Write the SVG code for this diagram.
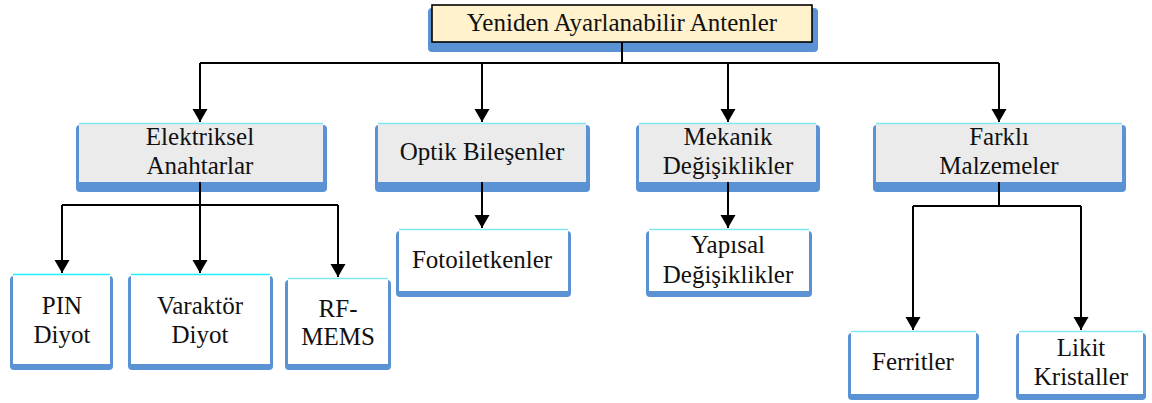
<svg xmlns="http://www.w3.org/2000/svg" width="1152" height="403" viewBox="0 0 1152 403">
<defs>
<style>
.sh{fill:#5B92D3;}
.gray{fill:#EBEBEB;}
.white{fill:#FFFFFF;}
.top{fill:#FFF2CC;stroke:#000;stroke-width:1.6;}
.cy{stroke:#7FE8F5;stroke-width:1.5;}
.cyw{stroke:#22F0FF;stroke-width:1.5;}
.c{fill:none;stroke:#000;stroke-width:2;}
</style>
<marker id="ah" markerUnits="userSpaceOnUse" markerWidth="14" markerHeight="16" refX="13" refY="7.5" orient="auto" viewBox="0 0 14 15">
<path d="M0,0 L13,7.5 L0,15 z" fill="#000"/>
</marker>
</defs>
<rect x="0" y="0" width="1152" height="403" fill="#FFFFFF"/>
<g font-family="Liberation Serif, Times New Roman, serif" font-size="25" text-anchor="middle" fill="#111">

<g id="n-root">
<rect class="sh" x="428" y="8" width="390" height="44" rx="4"/>
<rect class="top" x="432" y="5" width="380" height="37"/>
<text x="622" y="31">Yeniden Ayarlanabilir Antenler</text>
</g>

<g id="n-elektriksel">
<rect class="sh" x="76" y="125" width="251" height="67" rx="4"/>
<rect class="gray" x="79" y="123" width="244" height="59"/>
<line class="cy" x1="79" y1="123.5" x2="323" y2="123.5"/>
<text x="200" y="145">Elektriksel</text>
<text x="200" y="174">Anahtarlar</text>
</g>

<g id="n-optik">
<rect class="sh" x="375" y="125" width="215" height="67" rx="4"/>
<rect class="gray" x="378" y="123" width="208" height="59"/>
<line class="cy" x1="378" y1="123.5" x2="586" y2="123.5"/>
<text x="482" y="160">Optik Bileşenler</text>
</g>

<g id="n-mekanik">
<rect class="sh" x="636" y="125" width="184" height="67" rx="4"/>
<rect class="gray" x="639" y="123" width="177" height="59"/>
<line class="cy" x1="639" y1="123.5" x2="816" y2="123.5"/>
<text x="728" y="145">Mekanik</text>
<text x="728" y="174">Değişiklikler</text>
</g>

<g id="n-farkli">
<rect class="sh" x="873" y="125" width="253" height="67" rx="4"/>
<rect class="gray" x="876" y="123" width="246" height="59"/>
<line class="cy" x1="876" y1="123.5" x2="1122" y2="123.5"/>
<text x="999" y="145">Farklı</text>
<text x="999" y="174">Malzemeler</text>
</g>

<g id="n-pin">
<rect class="sh" x="10" y="276" width="103" height="94" rx="4"/>
<rect class="white" x="13" y="274" width="97" height="90"/>
<line class="cyw" x1="13" y1="274.5" x2="110" y2="274.5"/>
<text x="62" y="314">PIN</text>
<text x="62" y="343">Diyot</text>
</g>

<g id="n-varaktor">
<rect class="sh" x="128" y="276" width="145" height="94" rx="4"/>
<rect class="white" x="131" y="274" width="139" height="90"/>
<line class="cyw" x1="131" y1="274.5" x2="270" y2="274.5"/>
<text x="200" y="314">Varaktör</text>
<text x="200" y="343">Diyot</text>
</g>

<g id="n-rfmems">
<rect class="sh" x="285" y="280" width="106" height="90" rx="4"/>
<rect class="white" x="288" y="278" width="100" height="86"/>
<line class="cy" x1="288" y1="278.5" x2="388" y2="278.5"/>
<text x="338" y="317">RF-</text>
<text x="338" y="345">MEMS</text>
</g>

<g id="n-foto">
<rect class="sh" x="396" y="231" width="175" height="66" rx="4"/>
<rect class="white" x="399" y="229" width="169" height="62"/>
<line class="cy" x1="399" y1="229.5" x2="568" y2="229.5"/>
<text x="482" y="268">Fotoiletkenler</text>
</g>

<g id="n-yapisal">
<rect class="sh" x="646" y="231" width="166" height="66" rx="4"/>
<rect class="white" x="649" y="229" width="160" height="62"/>
<line class="cy" x1="649" y1="229.5" x2="809" y2="229.5"/>
<text x="728" y="253">Yapısal</text>
<text x="728" y="283">Değişiklikler</text>
</g>

<g id="n-ferrit">
<rect class="sh" x="848" y="333" width="131" height="67" rx="4"/>
<rect class="white" x="851" y="331" width="125" height="63"/>
<line class="cy" x1="851" y1="331.5" x2="976" y2="331.5"/>
<text x="913" y="370">Ferritler</text>
</g>

<g id="n-likit">
<rect class="sh" x="1016" y="333" width="130" height="67" rx="4"/>
<rect class="white" x="1019" y="331" width="124" height="63"/>
<line class="cy" x1="1019" y1="331.5" x2="1143" y2="331.5"/>
<text x="1081" y="356">Likit</text>
<text x="1081" y="385">Kristaller</text>
</g>
</g>

<g id="connectors">
<path class="c" d="M622,42 V63 M200,63 H999 M62,205 H338 M913,206 H1081 M200,182 V205 M999,182 V206"/>
<path class="c" marker-end="url(#ah)" d="M200,63 V122"/>
<path class="c" marker-end="url(#ah)" d="M482,63 V122"/>
<path class="c" marker-end="url(#ah)" d="M728,63 V122"/>
<path class="c" marker-end="url(#ah)" d="M999,63 V122"/>
<path class="c" marker-end="url(#ah)" d="M62,205 V273"/>
<path class="c" marker-end="url(#ah)" d="M200,205 V273"/>
<path class="c" marker-end="url(#ah)" d="M338,205 V277"/>
<path class="c" marker-end="url(#ah)" d="M482,182 V228"/>
<path class="c" marker-end="url(#ah)" d="M728,182 V228"/>
<path class="c" marker-end="url(#ah)" d="M913,206 V330"/>
<path class="c" marker-end="url(#ah)" d="M1081,206 V330"/>
</g>
</svg>
